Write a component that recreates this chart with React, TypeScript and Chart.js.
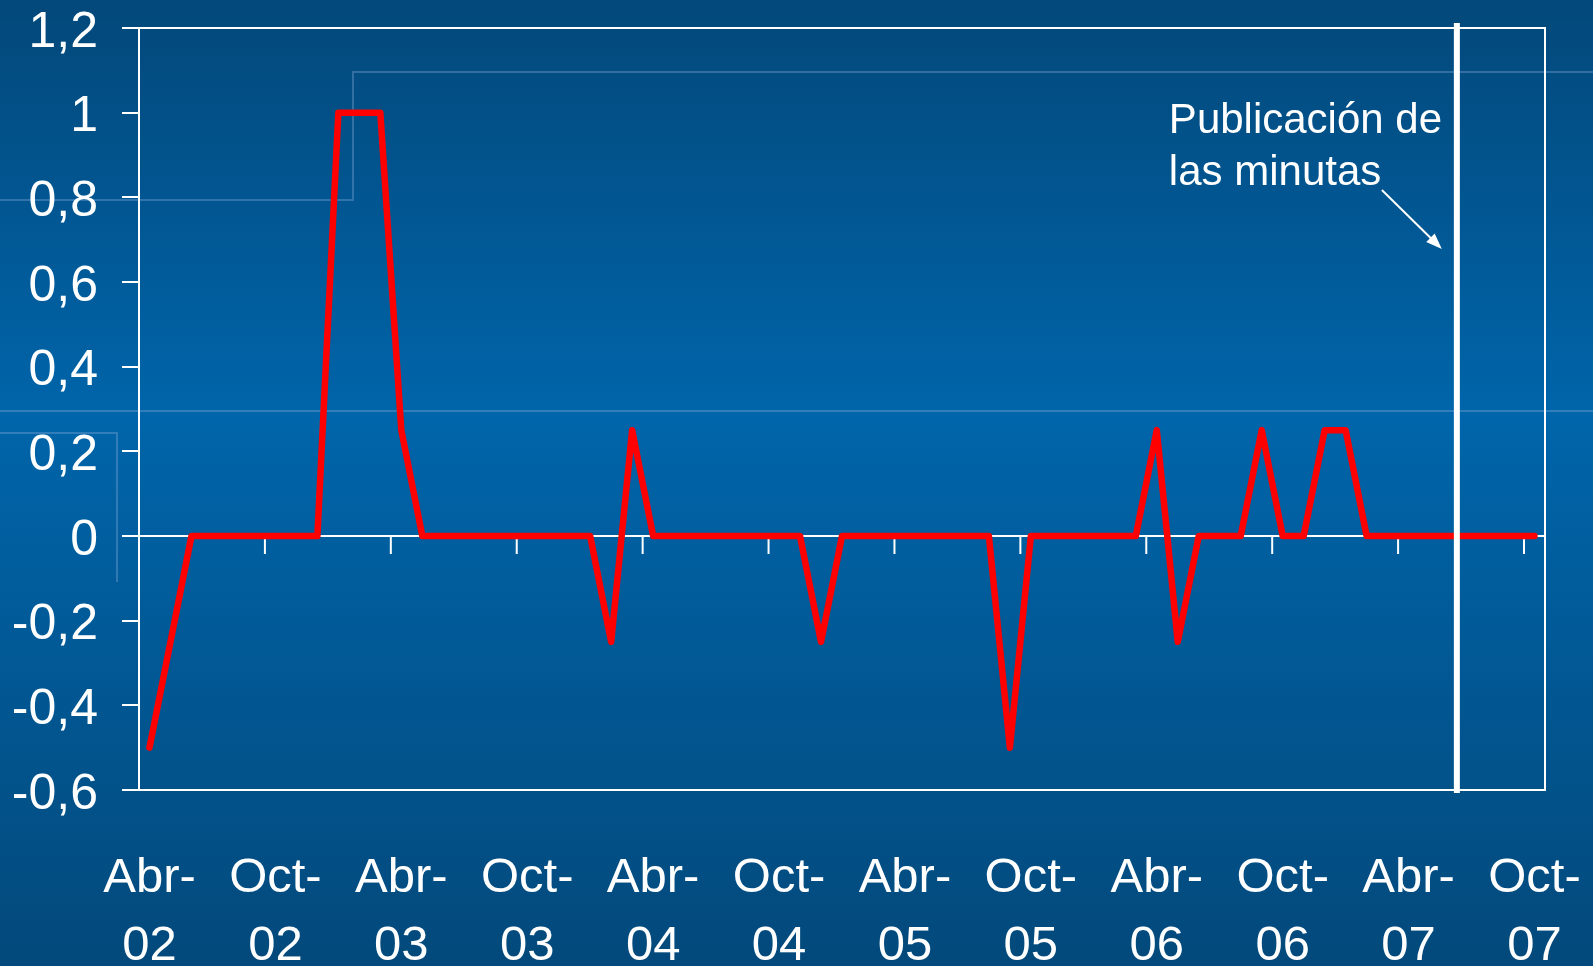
import React, { useEffect, useRef } from "react";
import { Chart, registerables } from "chart.js";

Chart.register(...registerables);

const FONT = "'Liberation Sans', Arial, Helvetica, sans-serif";

// Month abbreviations (Spanish) and period covered: Abr-02 .. Oct-07
const monthAbbr = ["Ene", "Feb", "Mar", "Abr", "May", "Jun", "Jul", "Ago", "Sep", "Oct", "Nov", "Dic"];
const firstYear = 2002;
const firstMonth = 3; // Abr

// Series values, one array per year (monthly)
const values2002 = [-0.5, -0.25, 0, 0, 0, 0, 0, 0, 0]; // Abr..Dic
const values2003 = [1, 1, 1, 0.25, 0, 0, 0, 0, 0, 0, 0, 0];
const values2004 = [0, -0.25, 0.25, 0, 0, 0, 0, 0, 0, 0, 0, -0.25];
const values2005 = [0, 0, 0, 0, 0, 0, 0, 0, -0.5, 0, 0, 0];
const values2006 = [0, 0, 0, 0.25, -0.25, 0, 0, 0, 0.25, 0, 0, 0.25];
const values2007 = [0.25, 0, 0, 0, 0, 0, 0, 0, 0, 0]; // Ene..Oct

const seriesValues = [...values2002, ...values2003, ...values2004, ...values2005, ...values2006, ...values2007];

const categories = seriesValues.map((_, i) => {
  const m = (firstMonth + i) % 12;
  const y = firstYear + Math.floor((firstMonth + i) / 12);
  return `${monthAbbr[m]}-${String(y % 100).padStart(2, "0")}`;
});

const labelEvery = 6;
const yMin = -0.6;
const yMax = 1.2;
const yStep = 0.2;
const minutesIndex = 62.3; // position of "Publicación de las minutas" marker (category units)
const annotationLines = ["Publicación de", "las minutas"];

const formatY = (v: number) => {
  const r = Math.round(v * 10) / 10;
  return String(r).replace(".", ",");
};

const backgroundPlugin = {
  id: "slideBackground",
  beforeDraw(chart: any) {
    const { ctx, width, height } = chart;
    ctx.save();
    const g = ctx.createLinearGradient(0, 0, 0, height);
    g.addColorStop(0, "#03487a");
    g.addColorStop(0.43, "#0065aa");
    g.addColorStop(1, "#03497b");
    ctx.fillStyle = g;
    ctx.fillRect(0, 0, width, height);
    ctx.strokeStyle = "rgba(150,180,225,0.33)";
    ctx.lineWidth = 2;
    ctx.beginPath();
    ctx.moveTo(0, 200);
    ctx.lineTo(353, 200);
    ctx.lineTo(353, 72);
    ctx.lineTo(width, 72);
    ctx.stroke();
    ctx.beginPath();
    ctx.moveTo(0, 411);
    ctx.lineTo(width, 411);
    ctx.stroke();
    ctx.beginPath();
    ctx.moveTo(0, 433);
    ctx.lineTo(117, 433);
    ctx.lineTo(117, 582);
    ctx.stroke();
    ctx.restore();
  },
};

const framePlugin = {
  id: "frameAndZeroTicks",
  beforeDatasetsDraw(chart: any) {
    const { ctx, chartArea: a, scales } = chart;
    const xs = scales.x;
    const ys = scales.y;
    ctx.save();
    ctx.strokeStyle = "#ffffff";
    ctx.lineWidth = 2;
    ctx.strokeRect(a.left, a.top, a.right - a.left, a.bottom - a.top);
    const y0 = ys.getPixelForValue(0);
    const half = (xs.getPixelForValue(1) - xs.getPixelForValue(0)) / 2;
    ctx.beginPath();
    for (let i = labelEvery; i < categories.length; i += labelEvery) {
      const px = xs.getPixelForValue(i) - half;
      ctx.moveTo(px, y0);
      ctx.lineTo(px, y0 + 18);
    }
    ctx.stroke();
    ctx.restore();
  },
};

const annotationPlugin = {
  id: "minutesAnnotation",
  afterDatasetsDraw(chart: any) {
    const { ctx, chartArea: a, scales } = chart;
    const xs = scales.x;
    const base = Math.floor(minutesIndex);
    const step = xs.getPixelForValue(base + 1) - xs.getPixelForValue(base);
    const lx = xs.getPixelForValue(base) + (minutesIndex - base) * step;
    ctx.save();
    ctx.strokeStyle = "#ffffff";
    ctx.lineWidth = 6;
    ctx.beginPath();
    ctx.moveTo(lx, a.top - 5);
    ctx.lineTo(lx, a.bottom + 3);
    ctx.stroke();

    ctx.fillStyle = "#ffffff";
    ctx.font = `42px ${FONT}`;
    ctx.textAlign = "left";
    ctx.textBaseline = "alphabetic";
    const tx = lx - 288;
    annotationLines.forEach((t, i) => ctx.fillText(t, tx, a.top + 105 + i * 52));

    // arrow
    const sx = lx - 75, sy = a.top + 162;
    const ex = lx - 15, ey = a.top + 221;
    const ang = Math.atan2(ey - sy, ex - sx);
    ctx.lineWidth = 2;
    ctx.beginPath();
    ctx.moveTo(sx, sy);
    ctx.lineTo(ex - 10 * Math.cos(ang), ey - 10 * Math.sin(ang));
    ctx.stroke();
    const hl = 16, hw = 6;
    ctx.beginPath();
    ctx.moveTo(ex, ey);
    ctx.lineTo(ex - hl * Math.cos(ang) + hw * Math.sin(ang), ey - hl * Math.sin(ang) - hw * Math.cos(ang));
    ctx.lineTo(ex - hl * Math.cos(ang) - hw * Math.sin(ang), ey - hl * Math.sin(ang) + hw * Math.cos(ang));
    ctx.closePath();
    ctx.fill();
    ctx.restore();
  },
};

export default function App() {
  const canvasRef = useRef<HTMLCanvasElement | null>(null);

  useEffect(() => {
    document.body.style.margin = "0";
    const canvas = canvasRef.current;
    if (!canvas) return;
    const chart = new Chart(canvas, {
      type: "line",
      data: {
        labels: categories,
        datasets: [
          {
            data: seriesValues,
            borderColor: "#ff0000",
            borderWidth: 6.5,
            pointRadius: 0,
            tension: 0,
            fill: false,
            borderJoinStyle: "round",
            borderCapStyle: "round",
          },
        ],
      },
      options: {
        responsive: false,
        animation: false,
        devicePixelRatio: 1,
        layout: { padding: { top: 28, right: 48, left: 0, bottom: 0 } },
        plugins: {
          legend: { display: false },
          tooltip: { enabled: false },
          title: { display: false },
        },
        scales: {
          x: {
            type: "category",
            offset: true,
            grid: { display: false, drawTicks: false },
            border: { display: false },
            ticks: {
              autoSkip: false,
              maxRotation: 0,
              minRotation: 0,
              padding: 55,
              color: "#ffffff",
              font: { family: FONT, size: 49, lineHeight: 1.38 },
              callback: (_v: any, i: number) => {
                if (i % labelEvery !== 0) return "";
                const [m, y] = categories[i].split("-");
                return [m + "-", y];
              },
            },
            afterFit: (s: any) => {
              s.height = 176;
              s.paddingLeft = 0;
              s.paddingRight = 0;
              s.paddingTop = 0;
              s.paddingBottom = 0;
            },
          },
          y: {
            min: yMin,
            max: yMax,
            ticks: {
              stepSize: yStep,
              padding: 24,
              labelOffset: 5,
              color: "#ffffff",
              font: { family: FONT, size: 50, lineHeight: 1.1 },
              callback: (v: any) => formatY(Number(v)),
            },
            grid: {
              color: (c: any) => (c.tick && Math.abs(c.tick.value) < 1e-9 ? "#ffffff" : "rgba(0,0,0,0)"),
              lineWidth: 2,
              tickColor: "#ffffff",
              tickLength: 17,
              drawTicks: true,
            },
            border: { display: false },
            afterFit: (s: any) => {
              s.width = 139;
              s.paddingLeft = 0;
              s.paddingRight = 0;
              s.paddingTop = 0;
              s.paddingBottom = 0;
            },
          },
        },
      },
      plugins: [backgroundPlugin, framePlugin, annotationPlugin],
    } as any);
    return () => chart.destroy();
  }, []);

  return (
    <div style={{ width: 1593, height: 966 }}>
      <canvas ref={canvasRef} width={1593} height={966} style={{ display: "block" }} />
    </div>
  );
}
